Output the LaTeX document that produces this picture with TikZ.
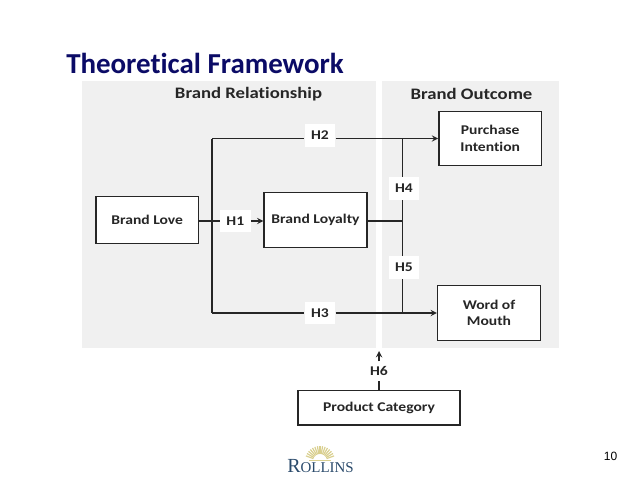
\documentclass[tikz,border=0pt]{standalone}
\usepackage{fontspec}
\setmainfont{Carlito}[Ligatures=NoCommon]
\newfontfamily\labelfont{Carlito}[Ligatures=NoCommon,FakeStretch=1.17]
\newfontfamily\logofont{Liberation Serif}
\newfontfamily\pagefont{Liberation Sans}
\definecolor{titleblue}{HTML}{0B0B66}
\definecolor{panelgray}{HTML}{F0F0F0}
\definecolor{linedark}{HTML}{262626}
\definecolor{logoblue}{HTML}{2A4A6B}
\definecolor{logogold}{HTML}{D9CF8F}
\tikzset{
  framebox/.style={draw=linedark,line width=1.1pt,fill=white,inner sep=0pt,align=center,
    font=\labelfont\bfseries\fontsize{10pt}{12.3pt}\selectfont,text=linedark},
  hlabel/.style={fill=white,inner sep=0pt,minimum width=23pt,minimum height=17pt,
    font=\labelfont\bfseries\fontsize{10pt}{12pt}\selectfont,text=linedark},
  headlabel/.style={inner sep=0pt,font=\labelfont\bfseries\fontsize{12pt}{14pt}\selectfont,text=linedark},
  linkline/.style={draw=linedark,line width=1.1pt},
  linkarrow/.style={linkline,-stealth},
}
\begin{document}
\begin{tikzpicture}[x=0.75pt,y=-0.75pt]
\useasboundingbox (0,0) rectangle (638,479);
% title
\node[inner sep=0pt,anchor=west,text=titleblue,font=\bfseries\fontsize{21.7pt}{24pt}\selectfont] (title) at (66,63) {Theoretical Framework};
% gray panels
\fill[panelgray] (81.7,81) rectangle (376,347.7);
\fill[panelgray] (381.7,81) rectangle (559.3,347.7);
\node[headlabel] (relationship) at (248.5,94.5) {Brand Relationship};
\node[headlabel] (outcome) at (471.5,94) {Brand Outcome};
% boxes
\node[framebox,minimum width=77pt,minimum height=35pt] (love) at (147.2,220) {Brand Love};
\node[framebox,minimum width=77pt,minimum height=41pt] (loyalty) at (315.5,220) {Brand Loyalty};
\node[framebox,minimum width=77pt,minimum height=40.5pt] (purchase) at (490.2,138.5) {Purchase\\Intention};
\node[framebox,minimum width=77pt,minimum height=41pt] (mouth) at (489,313) {Word of\\Mouth};
\node[framebox,minimum width=121.5pt,minimum height=26pt] (category) at (379,407.8) {Product Category};
% hypothesis labels
\node[hlabel] (hone) at (235.3,221) {H1};
\node[hlabel] (htwo) at (320,135.5) {H2};
\node[hlabel] (hthree) at (320,313) {H3};
\node[hlabel] (hfour) at (404,188.5) {H4};
\node[hlabel] (hfive) at (404,267.5) {H5};
\node[hlabel,minimum height=14pt] (hsix) at (379,371) {H6};
% corners and junctions
\coordinate (trunktop) at (212,138.5);
\coordinate (trunkmid) at (212,221);
\coordinate (trunkbot) at (212,313);
\coordinate (jointop) at (402.7,138.5);
\coordinate (joinmid) at (402.7,221);
\coordinate (joinbot) at (402.7,313);
\coordinate (gaptip) at (379,351);
% lines of the model
\draw[linkline] (love.east |- hone) -- (hone);
\draw[linkarrow] (hone) -- (loyalty.west |- hone);
\draw[linkline] (trunktop) -- (trunkbot);
\draw[linkline] (trunktop) -- (htwo.west |- trunktop);
\draw[linkarrow] (htwo.east |- trunktop) -- (purchase);
\draw[linkline] (trunkbot) -- (hthree);
\draw[linkarrow] (hthree) -- (mouth.west |- hthree);
\draw[linkline] (loyalty.east |- joinmid) -- (joinmid);
\draw[linkline] (jointop) -- (hfour.north -| jointop);
\draw[linkline] (hfour.south -| joinmid) -- (joinmid);
\draw[linkline] (joinmid) -- (hfive.north -| joinmid);
\draw[linkline] (hfive.south -| joinbot) -- (joinbot);
\draw[linkline] (category) -- (hsix);
\draw[linkarrow] (hsix) -- (gaptip);
% logo
\foreach \ang in {20,30,...,160}
  \draw[logogold,line width=0.9pt] (320,461) ++(-\ang:7) -- ++(-\ang:8);
\fill[logogold] (309,459.5) rectangle (331,461);
\node[inner sep=0pt,anchor=base,text=logoblue,font=\logofont] (logo) at (320.5,472.7) {{\fontsize{15pt}{16pt}\selectfont R}{\fontsize{11.2pt}{12pt}\selectfont OLLINS}};
% page number
\node[inner sep=0pt,text=black,font=\pagefont\fontsize{9pt}{10pt}\selectfont] (pagenum) at (610.5,456) {10};
\end{tikzpicture}
\end{document}
